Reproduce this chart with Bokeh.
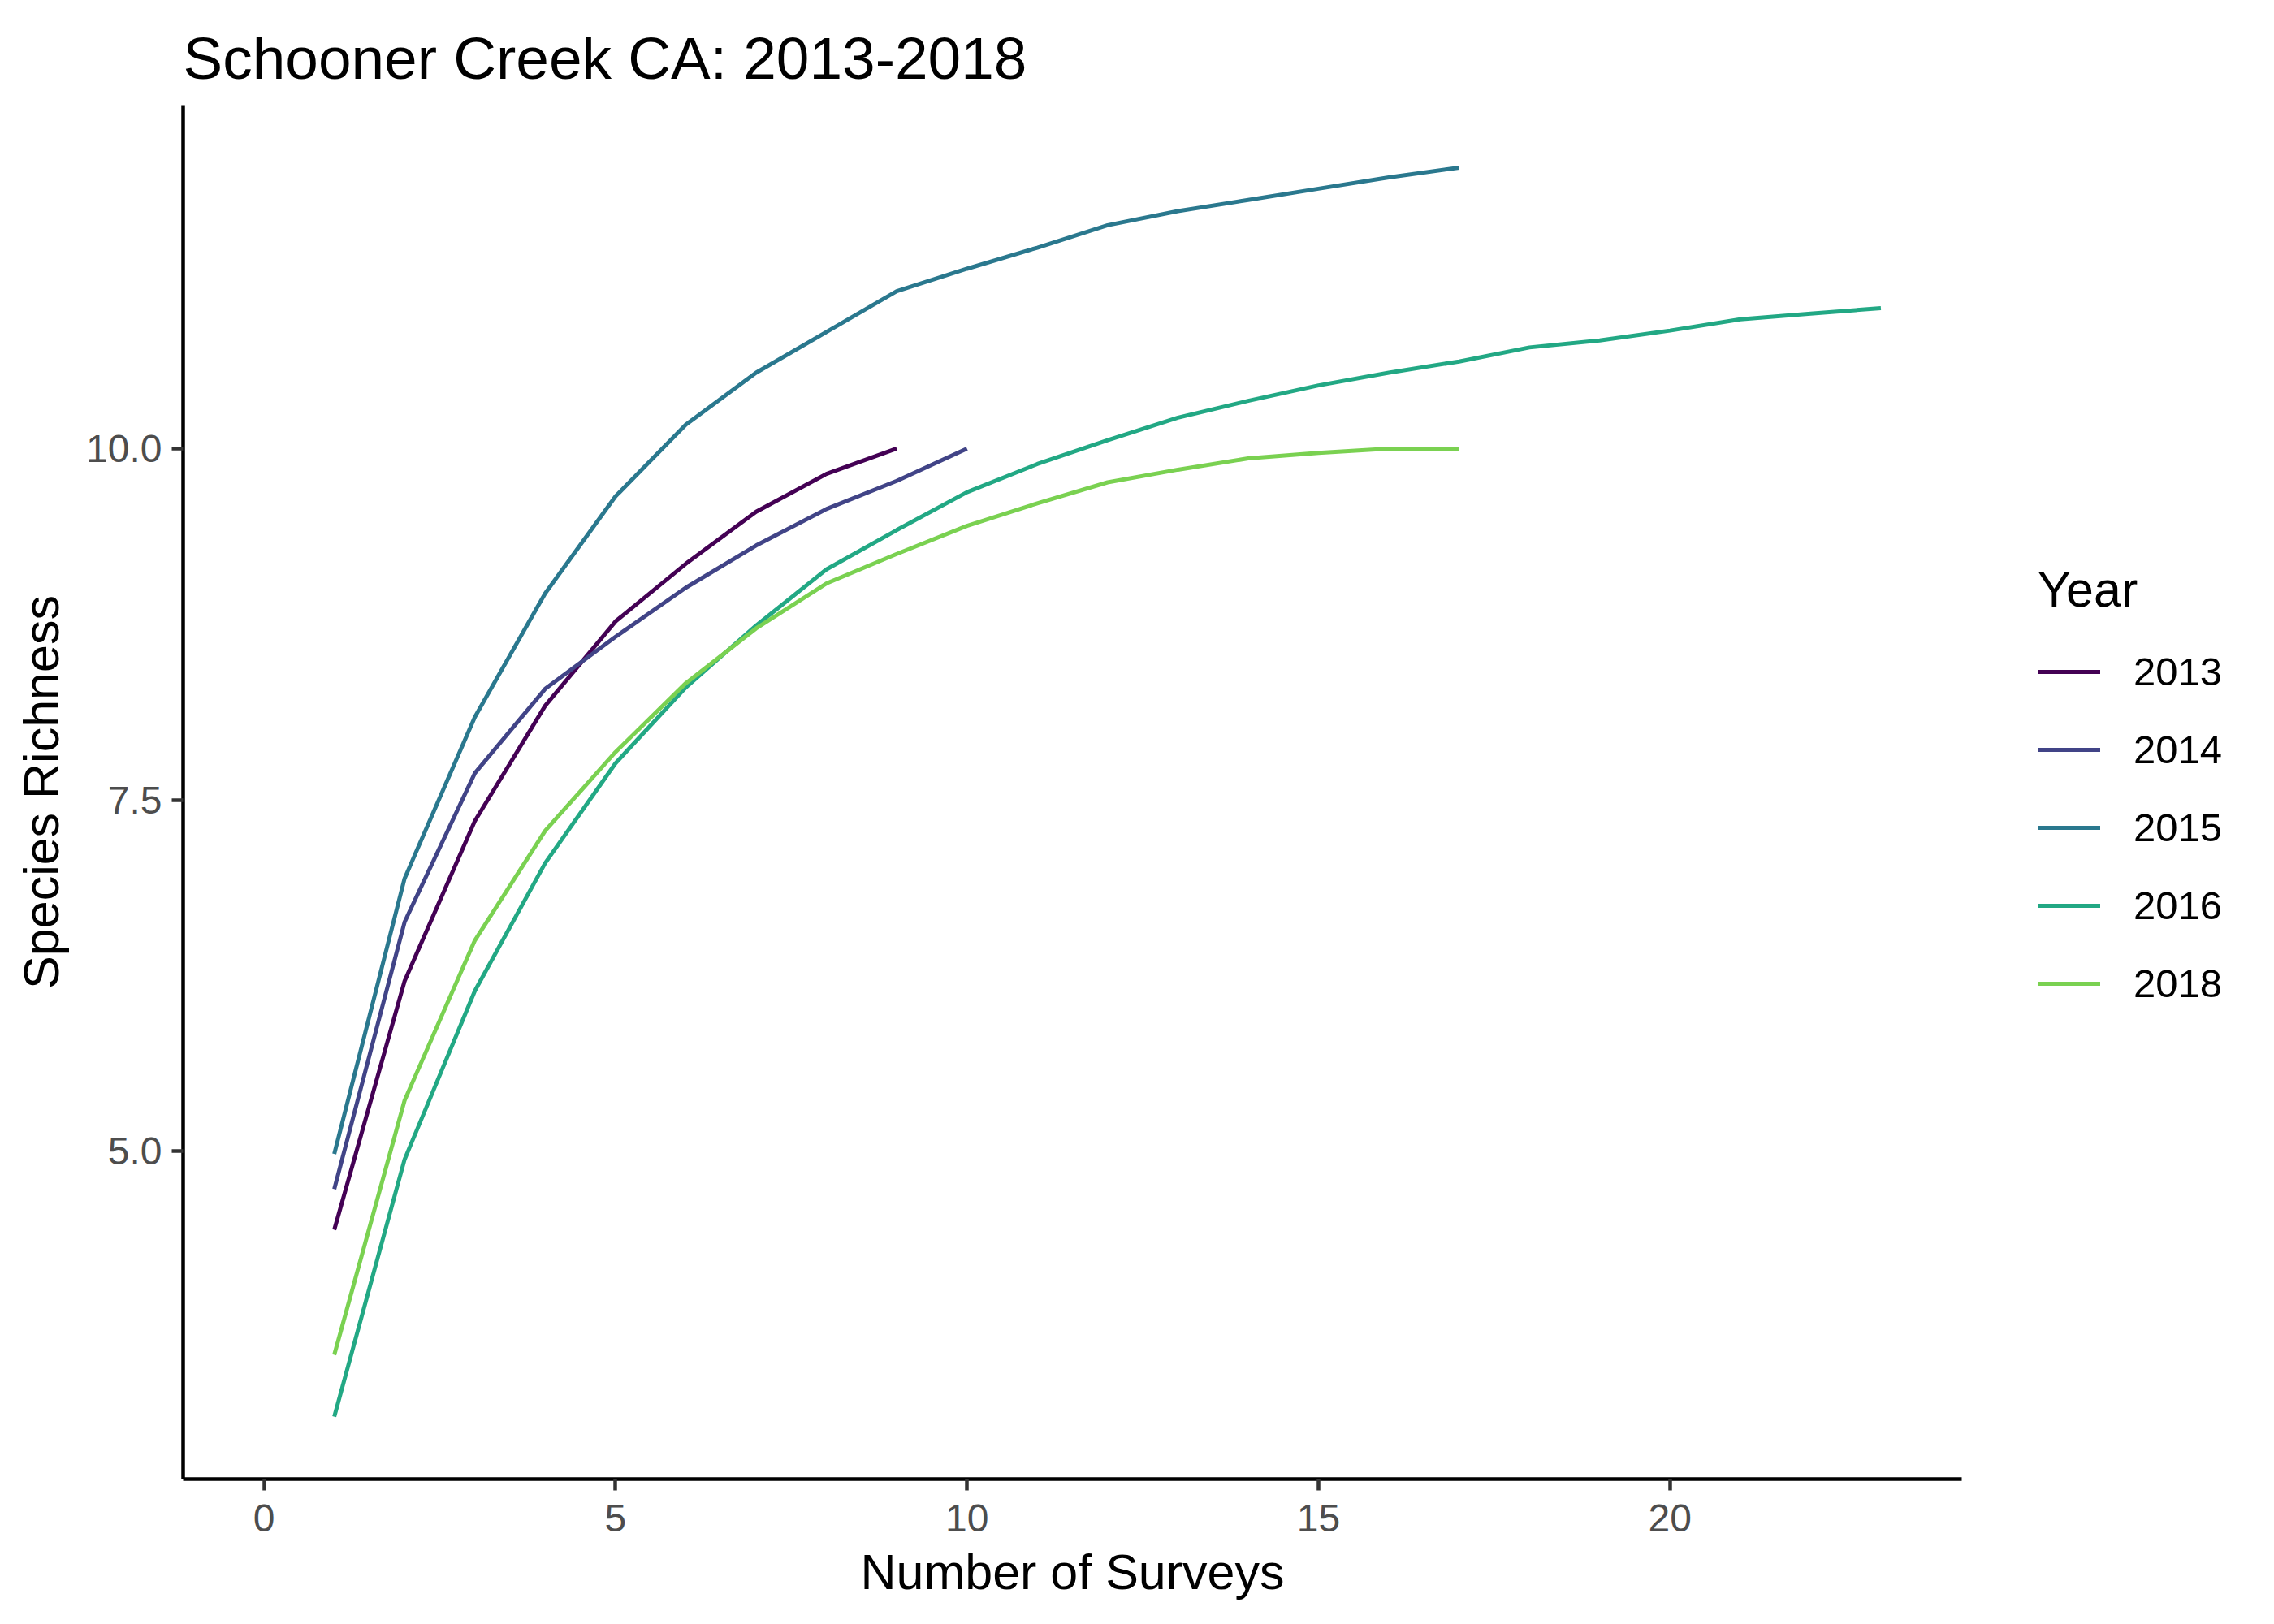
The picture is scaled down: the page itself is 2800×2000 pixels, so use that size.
from bokeh.plotting import figure
from bokeh.models import Range1d, FixedTicker, PrintfTickFormatter, Legend, LegendItem
from bokeh.embed import file_html
from bokeh.resources import INLINE

years = ["2013", "2014", "2015", "2016", "2018"]
colors = ["#440154", "#414487", "#2A788E", "#22A884", "#7AD151"]

richness_2013 = [4.44, 6.21, 7.35, 8.17, 8.77, 9.18, 9.55, 9.82, 10.0]
richness_2014 = [4.73, 6.63, 7.69, 8.29, 8.66, 9.01, 9.31, 9.57, 9.77, 10.0]
richness_2015 = [4.98, 6.94, 8.09, 8.97, 9.66, 10.17, 10.54, 10.83, 11.12, 11.28,
                 11.43, 11.59, 11.69, 11.77, 11.85, 11.93, 12.0]
richness_2016 = [3.11, 4.94, 6.14, 7.05, 7.76, 8.30, 8.74, 9.14, 9.42, 9.69, 9.89,
                 10.06, 10.22, 10.34, 10.45, 10.54, 10.62, 10.72, 10.77, 10.84,
                 10.92, 10.96, 11.0]
richness_2018 = [3.55, 5.36, 6.50, 7.28, 7.84, 8.33, 8.72, 9.04, 9.25, 9.45, 9.61,
                 9.76, 9.85, 9.93, 9.97, 10.0, 10.0]

series = [richness_2013, richness_2014, richness_2015, richness_2016, richness_2018]

x_ticks = [0, 5, 10, 15, 20]
y_ticks = [5.0, 7.5, 10.0]

FONT = "Liberation Sans"

p = figure(
    frame_width=2190, frame_height=1692,
    min_border_left=225, min_border_right=369,
    min_border_top=129, min_border_bottom=163,
    x_range=Range1d(-1.15, 24.15), y_range=Range1d(2.6655, 12.4445),
    title="Schooner Creek CA: 2013-2018",
    output_backend="svg", toolbar_location=None,
)
p.background_fill_color = "white"
p.border_fill_color = "white"
p.outline_line_color = None
p.xgrid.visible = False
p.ygrid.visible = False

p.title.text_font = FONT
p.title.text_font_size = "73px"
p.title.text_font_style = "normal"
p.title.text_color = "black"
p.title.align = "left"
p.title.vertical_align = "top"
p.title.standoff = 32

for ax in (p.xaxis[0], p.yaxis[0]):
    ax.axis_line_color = "black"
    ax.axis_line_width = 4.5
    ax.major_tick_line_color = "#333333"
    ax.major_tick_line_width = 4.5
    ax.major_tick_out = 14
    ax.major_tick_in = 0
    ax.minor_tick_line_color = None
    ax.major_label_text_font = FONT
    ax.major_label_text_font_size = "48px"
    ax.major_label_text_color = "#4D4D4D"
    ax.axis_label_text_font = FONT
    ax.axis_label_text_font_size = "61px"
    ax.axis_label_text_font_style = "normal"
    ax.axis_label_text_color = "black"

p.xaxis[0].major_label_standoff = 17
p.xaxis[0].axis_label_standoff = 13
p.yaxis[0].major_label_standoff = 12
p.yaxis[0].axis_label_standoff = 18

p.xaxis[0].ticker = FixedTicker(ticks=x_ticks)
p.yaxis[0].ticker = FixedTicker(ticks=y_ticks)
p.yaxis[0].formatter = PrintfTickFormatter(format="%.1f")
p.xaxis[0].axis_label = "Number of Surveys"
p.yaxis[0].axis_label = "Species Richness"

items = []
for yr, col, vals in zip(years, colors, series):
    xs = list(range(1, len(vals) + 1))
    r = p.line(xs, vals, line_color=col, line_width=5)
    items.append(LegendItem(label=yr, renderers=[r]))

legend = Legend(
    items=items, location="center_left", title="Year",
    title_text_font=FONT, title_text_font_size="61px", title_text_font_style="normal",
    title_text_color="black", title_standoff=18,
    label_text_font=FONT, label_text_font_size="49px", label_text_color="black",
    glyph_width=77, glyph_height=96, spacing=0, label_standoff=41,
    padding=0, margin=94, border_line_color=None, background_fill_alpha=0,
)
p.add_layout(legend, "right")

open("out.html", "w").write(file_html(p, INLINE))
